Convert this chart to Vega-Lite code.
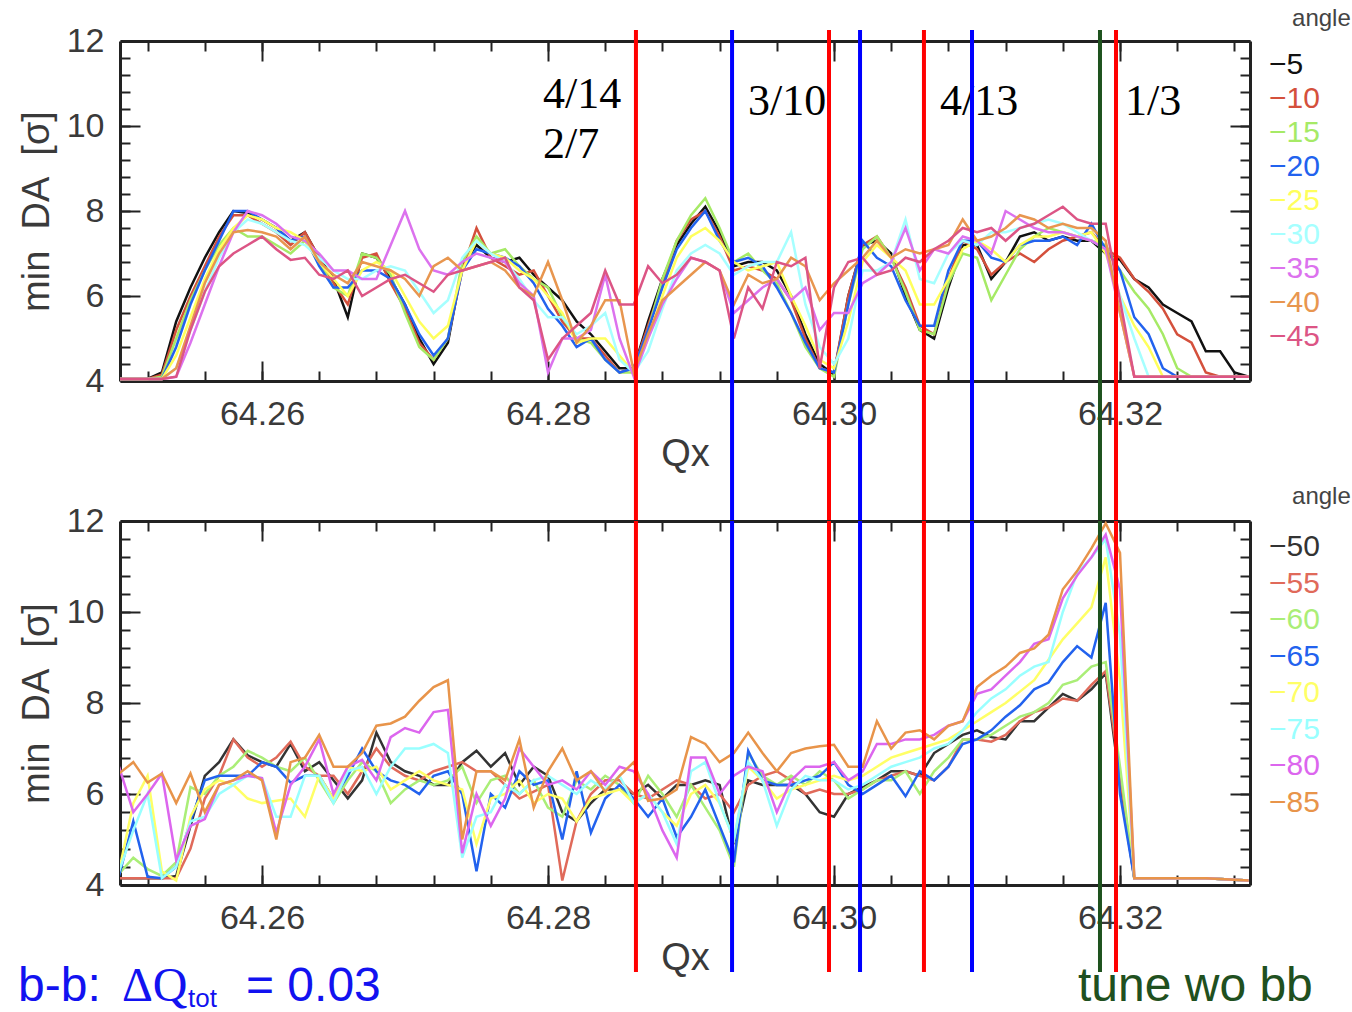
{
"$schema":"https://vega.github.io/schema/vega-lite/v6.json",
"background":"white",
"padding":{"left":18,"top":7,"right":0,"bottom":0},
"spacing":140,
"bounds":"flush",
"config":{"view":{"stroke":null},"axis":{"grid":false,"labelFont":"Liberation Sans","labelFontSize":34,"labelColor":"#3a3a3a","titleFont":"Liberation Sans","titleFontSize":38,"titleFontWeight":"normal","titleColor":"#3a3a3a","tickColor":"#222","tickWidth":2,"domainColor":"#222","domainWidth":3}},
"datasets":{
"top":[
{"a":-5,"q":64.250,"v":4.05},{"a":-5,"q":64.252,"v":4.05},{"a":-5,"q":64.253,"v":4.2},{"a":-5,"q":64.254,"v":5.4},{"a":-5,"q":64.255,"v":6.2},{"a":-5,"q":64.256,"v":6.9},{"a":-5,"q":64.257,"v":7.5},{"a":-5,"q":64.258,"v":8.0},{"a":-5,"q":64.259,"v":7.95},{"a":-5,"q":64.260,"v":7.8},{"a":-5,"q":64.261,"v":7.6},{"a":-5,"q":64.262,"v":7.3},{"a":-5,"q":64.263,"v":7.5},{"a":-5,"q":64.264,"v":6.9},{"a":-5,"q":64.265,"v":6.4},{"a":-5,"q":64.266,"v":5.5},{"a":-5,"q":64.267,"v":7.0},{"a":-5,"q":64.268,"v":6.9},{"a":-5,"q":64.269,"v":6.4},{"a":-5,"q":64.270,"v":5.8},{"a":-5,"q":64.271,"v":5.0},{"a":-5,"q":64.272,"v":4.4},{"a":-5,"q":64.273,"v":4.9},{"a":-5,"q":64.274,"v":6.7},{"a":-5,"q":64.275,"v":7.2},{"a":-5,"q":64.276,"v":6.9},{"a":-5,"q":64.277,"v":6.8},{"a":-5,"q":64.278,"v":6.9},{"a":-5,"q":64.279,"v":6.5},{"a":-5,"q":64.280,"v":6.2},{"a":-5,"q":64.281,"v":5.9},{"a":-5,"q":64.282,"v":5.4},{"a":-5,"q":64.283,"v":5.1},{"a":-5,"q":64.284,"v":4.7},{"a":-5,"q":64.285,"v":4.3},{"a":-5,"q":64.286,"v":4.3},{"a":-5,"q":64.287,"v":5.4},{"a":-5,"q":64.288,"v":6.4},{"a":-5,"q":64.289,"v":7.2},{"a":-5,"q":64.290,"v":7.7},{"a":-5,"q":64.291,"v":8.1},{"a":-5,"q":64.292,"v":7.5},{"a":-5,"q":64.293,"v":6.7},{"a":-5,"q":64.294,"v":6.8},{"a":-5,"q":64.295,"v":6.8},{"a":-5,"q":64.296,"v":6.6},{"a":-5,"q":64.297,"v":6.0},{"a":-5,"q":64.298,"v":5.1},{"a":-5,"q":64.299,"v":4.4},{"a":-5,"q":64.300,"v":4.15},{"a":-5,"q":64.301,"v":6.0},{"a":-5,"q":64.302,"v":7.2},{"a":-5,"q":64.303,"v":7.3},{"a":-5,"q":64.304,"v":7.0},{"a":-5,"q":64.305,"v":6.0},{"a":-5,"q":64.306,"v":5.2},{"a":-5,"q":64.307,"v":5.0},{"a":-5,"q":64.308,"v":6.2},{"a":-5,"q":64.309,"v":7.2},{"a":-5,"q":64.310,"v":7.2},{"a":-5,"q":64.311,"v":6.4},{"a":-5,"q":64.312,"v":6.8},{"a":-5,"q":64.313,"v":7.4},{"a":-5,"q":64.314,"v":7.5},{"a":-5,"q":64.315,"v":7.3},{"a":-5,"q":64.316,"v":7.4},{"a":-5,"q":64.317,"v":7.3},{"a":-5,"q":64.318,"v":7.3},{"a":-5,"q":64.319,"v":7.0},{"a":-5,"q":64.320,"v":6.85},{"a":-5,"q":64.321,"v":6.4},{"a":-5,"q":64.322,"v":6.2},{"a":-5,"q":64.323,"v":5.8},{"a":-5,"q":64.324,"v":5.6},{"a":-5,"q":64.325,"v":5.4},{"a":-5,"q":64.326,"v":4.7},{"a":-5,"q":64.327,"v":4.7},{"a":-5,"q":64.328,"v":4.2},{"a":-5,"q":64.329,"v":4.1},
{"a":-10,"q":64.250,"v":4.05},{"a":-10,"q":64.252,"v":4.05},{"a":-10,"q":64.253,"v":4.15},{"a":-10,"q":64.254,"v":5.2},{"a":-10,"q":64.255,"v":6.0},{"a":-10,"q":64.256,"v":6.7},{"a":-10,"q":64.257,"v":7.4},{"a":-10,"q":64.258,"v":7.9},{"a":-10,"q":64.259,"v":7.9},{"a":-10,"q":64.260,"v":7.7},{"a":-10,"q":64.261,"v":7.5},{"a":-10,"q":64.262,"v":7.2},{"a":-10,"q":64.263,"v":7.5},{"a":-10,"q":64.264,"v":6.9},{"a":-10,"q":64.265,"v":6.3},{"a":-10,"q":64.266,"v":5.8},{"a":-10,"q":64.267,"v":6.9},{"a":-10,"q":64.268,"v":7.0},{"a":-10,"q":64.269,"v":6.3},{"a":-10,"q":64.270,"v":5.7},{"a":-10,"q":64.271,"v":4.9},{"a":-10,"q":64.272,"v":4.5},{"a":-10,"q":64.273,"v":5.0},{"a":-10,"q":64.274,"v":6.6},{"a":-10,"q":64.275,"v":7.6},{"a":-10,"q":64.276,"v":6.9},{"a":-10,"q":64.277,"v":6.7},{"a":-10,"q":64.278,"v":6.5},{"a":-10,"q":64.279,"v":6.6},{"a":-10,"q":64.280,"v":6.0},{"a":-10,"q":64.281,"v":5.4},{"a":-10,"q":64.282,"v":5.0},{"a":-10,"q":64.283,"v":5.0},{"a":-10,"q":64.284,"v":4.6},{"a":-10,"q":64.285,"v":4.2},{"a":-10,"q":64.286,"v":4.3},{"a":-10,"q":64.287,"v":5.3},{"a":-10,"q":64.288,"v":6.3},{"a":-10,"q":64.289,"v":7.3},{"a":-10,"q":64.290,"v":7.8},{"a":-10,"q":64.291,"v":8.0},{"a":-10,"q":64.292,"v":7.4},{"a":-10,"q":64.293,"v":6.6},{"a":-10,"q":64.294,"v":6.7},{"a":-10,"q":64.295,"v":6.6},{"a":-10,"q":64.296,"v":6.4},{"a":-10,"q":64.297,"v":5.9},{"a":-10,"q":64.298,"v":5.0},{"a":-10,"q":64.299,"v":4.3},{"a":-10,"q":64.300,"v":4.2},{"a":-10,"q":64.301,"v":6.0},{"a":-10,"q":64.302,"v":7.2},{"a":-10,"q":64.303,"v":7.4},{"a":-10,"q":64.304,"v":6.9},{"a":-10,"q":64.305,"v":6.2},{"a":-10,"q":64.306,"v":5.3},{"a":-10,"q":64.307,"v":5.1},{"a":-10,"q":64.308,"v":6.4},{"a":-10,"q":64.309,"v":7.3},{"a":-10,"q":64.310,"v":7.1},{"a":-10,"q":64.311,"v":6.5},{"a":-10,"q":64.312,"v":6.8},{"a":-10,"q":64.313,"v":7.0},{"a":-10,"q":64.314,"v":6.8},{"a":-10,"q":64.315,"v":7.1},{"a":-10,"q":64.316,"v":7.3},{"a":-10,"q":64.317,"v":7.4},{"a":-10,"q":64.318,"v":7.5},{"a":-10,"q":64.319,"v":7.1},{"a":-10,"q":64.320,"v":6.9},{"a":-10,"q":64.321,"v":6.4},{"a":-10,"q":64.322,"v":6.1},{"a":-10,"q":64.323,"v":5.7},{"a":-10,"q":64.324,"v":5.1},{"a":-10,"q":64.325,"v":4.9},{"a":-10,"q":64.326,"v":4.2},{"a":-10,"q":64.327,"v":4.1},{"a":-10,"q":64.329,"v":4.1},
{"a":-15,"q":64.250,"v":4.05},{"a":-15,"q":64.252,"v":4.05},{"a":-15,"q":64.253,"v":4.1},{"a":-15,"q":64.254,"v":5.0},{"a":-15,"q":64.255,"v":5.9},{"a":-15,"q":64.256,"v":6.6},{"a":-15,"q":64.257,"v":7.2},{"a":-15,"q":64.258,"v":7.6},{"a":-15,"q":64.259,"v":7.4},{"a":-15,"q":64.260,"v":7.4},{"a":-15,"q":64.261,"v":7.2},{"a":-15,"q":64.262,"v":7.0},{"a":-15,"q":64.263,"v":7.3},{"a":-15,"q":64.264,"v":6.8},{"a":-15,"q":64.265,"v":6.2},{"a":-15,"q":64.266,"v":6.0},{"a":-15,"q":64.267,"v":7.0},{"a":-15,"q":64.268,"v":6.9},{"a":-15,"q":64.269,"v":6.5},{"a":-15,"q":64.270,"v":5.6},{"a":-15,"q":64.271,"v":4.8},{"a":-15,"q":64.272,"v":4.5},{"a":-15,"q":64.273,"v":5.0},{"a":-15,"q":64.274,"v":6.8},{"a":-15,"q":64.275,"v":7.4},{"a":-15,"q":64.276,"v":7.0},{"a":-15,"q":64.277,"v":7.1},{"a":-15,"q":64.278,"v":6.7},{"a":-15,"q":64.279,"v":6.4},{"a":-15,"q":64.280,"v":6.2},{"a":-15,"q":64.281,"v":5.5},{"a":-15,"q":64.282,"v":5.0},{"a":-15,"q":64.283,"v":4.9},{"a":-15,"q":64.284,"v":4.5},{"a":-15,"q":64.285,"v":4.2},{"a":-15,"q":64.286,"v":4.2},{"a":-15,"q":64.287,"v":5.2},{"a":-15,"q":64.288,"v":6.4},{"a":-15,"q":64.289,"v":7.3},{"a":-15,"q":64.290,"v":7.9},{"a":-15,"q":64.291,"v":8.3},{"a":-15,"q":64.292,"v":7.6},{"a":-15,"q":64.293,"v":6.8},{"a":-15,"q":64.294,"v":7.0},{"a":-15,"q":64.295,"v":6.6},{"a":-15,"q":64.296,"v":6.3},{"a":-15,"q":64.297,"v":5.6},{"a":-15,"q":64.298,"v":4.8},{"a":-15,"q":64.299,"v":4.3},{"a":-15,"q":64.300,"v":4.1},{"a":-15,"q":64.301,"v":5.8},{"a":-15,"q":64.302,"v":7.1},{"a":-15,"q":64.303,"v":7.4},{"a":-15,"q":64.304,"v":6.9},{"a":-15,"q":64.305,"v":6.1},{"a":-15,"q":64.306,"v":5.2},{"a":-15,"q":64.307,"v":5.1},{"a":-15,"q":64.308,"v":6.3},{"a":-15,"q":64.309,"v":7.0},{"a":-15,"q":64.310,"v":6.9},{"a":-15,"q":64.311,"v":5.9},{"a":-15,"q":64.312,"v":6.5},{"a":-15,"q":64.313,"v":7.1},{"a":-15,"q":64.314,"v":7.4},{"a":-15,"q":64.315,"v":7.6},{"a":-15,"q":64.316,"v":7.5},{"a":-15,"q":64.317,"v":7.4},{"a":-15,"q":64.318,"v":7.3},{"a":-15,"q":64.319,"v":7.2},{"a":-15,"q":64.320,"v":6.6},{"a":-15,"q":64.321,"v":6.1},{"a":-15,"q":64.322,"v":5.7},{"a":-15,"q":64.323,"v":5.1},{"a":-15,"q":64.324,"v":4.3},{"a":-15,"q":64.325,"v":4.1},{"a":-15,"q":64.329,"v":4.1},
{"a":-20,"q":64.250,"v":4.05},{"a":-20,"q":64.253,"v":4.05},{"a":-20,"q":64.254,"v":4.8},{"a":-20,"q":64.255,"v":5.8},{"a":-20,"q":64.256,"v":6.6},{"a":-20,"q":64.257,"v":7.3},{"a":-20,"q":64.258,"v":8.0},{"a":-20,"q":64.259,"v":8.0},{"a":-20,"q":64.260,"v":7.8},{"a":-20,"q":64.261,"v":7.6},{"a":-20,"q":64.262,"v":7.3},{"a":-20,"q":64.263,"v":7.4},{"a":-20,"q":64.264,"v":6.7},{"a":-20,"q":64.265,"v":6.2},{"a":-20,"q":64.266,"v":6.2},{"a":-20,"q":64.267,"v":6.6},{"a":-20,"q":64.268,"v":6.6},{"a":-20,"q":64.269,"v":6.4},{"a":-20,"q":64.270,"v":5.8},{"a":-20,"q":64.271,"v":5.1},{"a":-20,"q":64.272,"v":4.6},{"a":-20,"q":64.273,"v":5.0},{"a":-20,"q":64.274,"v":6.6},{"a":-20,"q":64.275,"v":7.1},{"a":-20,"q":64.276,"v":7.0},{"a":-20,"q":64.277,"v":6.9},{"a":-20,"q":64.278,"v":6.7},{"a":-20,"q":64.279,"v":6.3},{"a":-20,"q":64.280,"v":5.7},{"a":-20,"q":64.281,"v":5.3},{"a":-20,"q":64.282,"v":4.8},{"a":-20,"q":64.283,"v":5.0},{"a":-20,"q":64.284,"v":4.5},{"a":-20,"q":64.285,"v":4.2},{"a":-20,"q":64.286,"v":4.3},{"a":-20,"q":64.287,"v":5.2},{"a":-20,"q":64.288,"v":6.2},{"a":-20,"q":64.289,"v":7.1},{"a":-20,"q":64.290,"v":7.6},{"a":-20,"q":64.291,"v":8.0},{"a":-20,"q":64.292,"v":7.3},{"a":-20,"q":64.293,"v":6.8},{"a":-20,"q":64.294,"v":6.9},{"a":-20,"q":64.295,"v":6.7},{"a":-20,"q":64.296,"v":6.2},{"a":-20,"q":64.297,"v":5.6},{"a":-20,"q":64.298,"v":4.9},{"a":-20,"q":64.299,"v":4.3},{"a":-20,"q":64.300,"v":4.2},{"a":-20,"q":64.301,"v":5.8},{"a":-20,"q":64.302,"v":7.3},{"a":-20,"q":64.303,"v":6.9},{"a":-20,"q":64.304,"v":6.7},{"a":-20,"q":64.305,"v":5.9},{"a":-20,"q":64.306,"v":5.3},{"a":-20,"q":64.307,"v":5.3},{"a":-20,"q":64.308,"v":6.6},{"a":-20,"q":64.309,"v":7.3},{"a":-20,"q":64.310,"v":7.3},{"a":-20,"q":64.311,"v":6.9},{"a":-20,"q":64.312,"v":6.8},{"a":-20,"q":64.313,"v":7.2},{"a":-20,"q":64.314,"v":7.3},{"a":-20,"q":64.315,"v":7.3},{"a":-20,"q":64.316,"v":7.4},{"a":-20,"q":64.317,"v":7.2},{"a":-20,"q":64.318,"v":7.7},{"a":-20,"q":64.319,"v":7.1},{"a":-20,"q":64.320,"v":6.6},{"a":-20,"q":64.321,"v":5.5},{"a":-20,"q":64.322,"v":5.1},{"a":-20,"q":64.323,"v":4.3},{"a":-20,"q":64.324,"v":4.1},{"a":-20,"q":64.329,"v":4.1},
{"a":-25,"q":64.250,"v":4.05},{"a":-25,"q":64.253,"v":4.05},{"a":-25,"q":64.254,"v":4.6},{"a":-25,"q":64.255,"v":5.5},{"a":-25,"q":64.256,"v":6.4},{"a":-25,"q":64.257,"v":7.1},{"a":-25,"q":64.258,"v":7.6},{"a":-25,"q":64.259,"v":7.9},{"a":-25,"q":64.260,"v":7.8},{"a":-25,"q":64.261,"v":7.6},{"a":-25,"q":64.262,"v":7.5},{"a":-25,"q":64.263,"v":7.3},{"a":-25,"q":64.264,"v":6.8},{"a":-25,"q":64.265,"v":6.4},{"a":-25,"q":64.266,"v":6.0},{"a":-25,"q":64.267,"v":6.6},{"a":-25,"q":64.268,"v":6.8},{"a":-25,"q":64.269,"v":6.6},{"a":-25,"q":64.270,"v":6.0},{"a":-25,"q":64.271,"v":5.4},{"a":-25,"q":64.272,"v":5.0},{"a":-25,"q":64.273,"v":5.3},{"a":-25,"q":64.274,"v":6.6},{"a":-25,"q":64.275,"v":7.3},{"a":-25,"q":64.276,"v":7.0},{"a":-25,"q":64.277,"v":6.9},{"a":-25,"q":64.278,"v":6.6},{"a":-25,"q":64.279,"v":6.4},{"a":-25,"q":64.280,"v":6.0},{"a":-25,"q":64.281,"v":5.6},{"a":-25,"q":64.282,"v":4.9},{"a":-25,"q":64.283,"v":5.0},{"a":-25,"q":64.284,"v":5.0},{"a":-25,"q":64.285,"v":4.6},{"a":-25,"q":64.286,"v":4.2},{"a":-25,"q":64.287,"v":5.0},{"a":-25,"q":64.288,"v":6.0},{"a":-25,"q":64.289,"v":6.9},{"a":-25,"q":64.290,"v":7.4},{"a":-25,"q":64.291,"v":7.6},{"a":-25,"q":64.292,"v":7.3},{"a":-25,"q":64.293,"v":6.8},{"a":-25,"q":64.294,"v":6.6},{"a":-25,"q":64.295,"v":6.7},{"a":-25,"q":64.296,"v":6.8},{"a":-25,"q":64.297,"v":6.0},{"a":-25,"q":64.298,"v":5.3},{"a":-25,"q":64.299,"v":4.5},{"a":-25,"q":64.300,"v":4.3},{"a":-25,"q":64.301,"v":5.4},{"a":-25,"q":64.302,"v":6.8},{"a":-25,"q":64.303,"v":7.2},{"a":-25,"q":64.304,"v":6.9},{"a":-25,"q":64.305,"v":6.6},{"a":-25,"q":64.306,"v":5.8},{"a":-25,"q":64.307,"v":5.8},{"a":-25,"q":64.308,"v":6.4},{"a":-25,"q":64.309,"v":7.1},{"a":-25,"q":64.310,"v":7.3},{"a":-25,"q":64.311,"v":7.1},{"a":-25,"q":64.312,"v":6.8},{"a":-25,"q":64.313,"v":7.2},{"a":-25,"q":64.314,"v":7.4},{"a":-25,"q":64.315,"v":7.4},{"a":-25,"q":64.316,"v":7.5},{"a":-25,"q":64.317,"v":7.4},{"a":-25,"q":64.318,"v":7.5},{"a":-25,"q":64.319,"v":7.0},{"a":-25,"q":64.320,"v":6.0},{"a":-25,"q":64.321,"v":5.3},{"a":-25,"q":64.322,"v":4.8},{"a":-25,"q":64.323,"v":4.1},{"a":-25,"q":64.329,"v":4.1},
{"a":-30,"q":64.250,"v":4.05},{"a":-30,"q":64.253,"v":4.05},{"a":-30,"q":64.254,"v":4.3},{"a":-30,"q":64.255,"v":5.2},{"a":-30,"q":64.256,"v":6.1},{"a":-30,"q":64.257,"v":6.9},{"a":-30,"q":64.258,"v":7.5},{"a":-30,"q":64.259,"v":7.8},{"a":-30,"q":64.260,"v":7.7},{"a":-30,"q":64.261,"v":7.5},{"a":-30,"q":64.262,"v":7.3},{"a":-30,"q":64.263,"v":7.2},{"a":-30,"q":64.264,"v":6.9},{"a":-30,"q":64.265,"v":6.6},{"a":-30,"q":64.266,"v":6.4},{"a":-30,"q":64.267,"v":6.4},{"a":-30,"q":64.268,"v":6.6},{"a":-30,"q":64.269,"v":6.7},{"a":-30,"q":64.270,"v":6.6},{"a":-30,"q":64.271,"v":6.1},{"a":-30,"q":64.272,"v":5.6},{"a":-30,"q":64.273,"v":5.9},{"a":-30,"q":64.274,"v":6.9},{"a":-30,"q":64.275,"v":7.3},{"a":-30,"q":64.276,"v":7.0},{"a":-30,"q":64.277,"v":6.8},{"a":-30,"q":64.278,"v":6.4},{"a":-30,"q":64.279,"v":5.9},{"a":-30,"q":64.280,"v":5.5},{"a":-30,"q":64.281,"v":5.5},{"a":-30,"q":64.282,"v":5.1},{"a":-30,"q":64.283,"v":5.3},{"a":-30,"q":64.284,"v":5.6},{"a":-30,"q":64.285,"v":4.5},{"a":-30,"q":64.286,"v":4.2},{"a":-30,"q":64.287,"v":4.7},{"a":-30,"q":64.288,"v":5.7},{"a":-30,"q":64.289,"v":6.6},{"a":-30,"q":64.290,"v":7.0},{"a":-30,"q":64.291,"v":7.2},{"a":-30,"q":64.292,"v":7.0},{"a":-30,"q":64.293,"v":6.5},{"a":-30,"q":64.294,"v":6.7},{"a":-30,"q":64.295,"v":6.8},{"a":-30,"q":64.296,"v":6.8},{"a":-30,"q":64.297,"v":7.5},{"a":-30,"q":64.298,"v":5.8},{"a":-30,"q":64.299,"v":4.8},{"a":-30,"q":64.300,"v":4.4},{"a":-30,"q":64.301,"v":5.0},{"a":-30,"q":64.302,"v":6.6},{"a":-30,"q":64.303,"v":6.6},{"a":-30,"q":64.304,"v":6.8},{"a":-30,"q":64.305,"v":7.8},{"a":-30,"q":64.306,"v":6.4},{"a":-30,"q":64.307,"v":6.3},{"a":-30,"q":64.308,"v":7.0},{"a":-30,"q":64.309,"v":7.3},{"a":-30,"q":64.310,"v":7.2},{"a":-30,"q":64.311,"v":7.5},{"a":-30,"q":64.312,"v":7.5},{"a":-30,"q":64.313,"v":7.6},{"a":-30,"q":64.314,"v":7.7},{"a":-30,"q":64.315,"v":7.8},{"a":-30,"q":64.316,"v":7.7},{"a":-30,"q":64.317,"v":7.5},{"a":-30,"q":64.318,"v":7.3},{"a":-30,"q":64.319,"v":7.1},{"a":-30,"q":64.320,"v":6.0},{"a":-30,"q":64.321,"v":5.0},{"a":-30,"q":64.322,"v":4.1},{"a":-30,"q":64.329,"v":4.1},
{"a":-35,"q":64.250,"v":4.05},{"a":-35,"q":64.253,"v":4.05},{"a":-35,"q":64.254,"v":4.1},{"a":-35,"q":64.255,"v":4.9},{"a":-35,"q":64.256,"v":5.8},{"a":-35,"q":64.257,"v":6.7},{"a":-35,"q":64.258,"v":7.5},{"a":-35,"q":64.259,"v":8.0},{"a":-35,"q":64.260,"v":7.9},{"a":-35,"q":64.261,"v":7.7},{"a":-35,"q":64.262,"v":7.4},{"a":-35,"q":64.263,"v":7.3},{"a":-35,"q":64.264,"v":7.0},{"a":-35,"q":64.265,"v":6.6},{"a":-35,"q":64.266,"v":6.6},{"a":-35,"q":64.267,"v":6.4},{"a":-35,"q":64.268,"v":6.4},{"a":-35,"q":64.269,"v":7.2},{"a":-35,"q":64.270,"v":8.0},{"a":-35,"q":64.271,"v":7.1},{"a":-35,"q":64.272,"v":6.6},{"a":-35,"q":64.273,"v":6.5},{"a":-35,"q":64.274,"v":6.8},{"a":-35,"q":64.275,"v":7.0},{"a":-35,"q":64.276,"v":6.9},{"a":-35,"q":64.277,"v":6.8},{"a":-35,"q":64.278,"v":6.3},{"a":-35,"q":64.279,"v":6.0},{"a":-35,"q":64.280,"v":4.2},{"a":-35,"q":64.281,"v":5.0},{"a":-35,"q":64.282,"v":5.0},{"a":-35,"q":64.283,"v":5.2},{"a":-35,"q":64.284,"v":6.5},{"a":-35,"q":64.285,"v":5.0},{"a":-35,"q":64.286,"v":4.1},{"a":-35,"q":64.287,"v":5.0},{"a":-35,"q":64.288,"v":5.8},{"a":-35,"q":64.289,"v":6.4},{"a":-35,"q":64.290,"v":6.9},{"a":-35,"q":64.291,"v":6.8},{"a":-35,"q":64.292,"v":6.6},{"a":-35,"q":64.293,"v":5.6},{"a":-35,"q":64.294,"v":5.9},{"a":-35,"q":64.295,"v":6.2},{"a":-35,"q":64.296,"v":6.4},{"a":-35,"q":64.297,"v":5.9},{"a":-35,"q":64.298,"v":6.2},{"a":-35,"q":64.299,"v":5.2},{"a":-35,"q":64.300,"v":5.6},{"a":-35,"q":64.301,"v":5.6},{"a":-35,"q":64.302,"v":6.3},{"a":-35,"q":64.303,"v":6.5},{"a":-35,"q":64.304,"v":6.8},{"a":-35,"q":64.305,"v":7.6},{"a":-35,"q":64.306,"v":6.6},{"a":-35,"q":64.307,"v":7.1},{"a":-35,"q":64.308,"v":7.0},{"a":-35,"q":64.309,"v":7.4},{"a":-35,"q":64.310,"v":7.3},{"a":-35,"q":64.311,"v":7.0},{"a":-35,"q":64.312,"v":8.0},{"a":-35,"q":64.313,"v":7.8},{"a":-35,"q":64.314,"v":7.6},{"a":-35,"q":64.315,"v":7.5},{"a":-35,"q":64.316,"v":7.5},{"a":-35,"q":64.317,"v":7.4},{"a":-35,"q":64.318,"v":7.3},{"a":-35,"q":64.319,"v":7.1},{"a":-35,"q":64.320,"v":5.6},{"a":-35,"q":64.321,"v":4.1},{"a":-35,"q":64.329,"v":4.1},
{"a":-40,"q":64.250,"v":4.05},{"a":-40,"q":64.253,"v":4.05},{"a":-40,"q":64.254,"v":4.3},{"a":-40,"q":64.255,"v":5.3},{"a":-40,"q":64.256,"v":6.3},{"a":-40,"q":64.257,"v":7.0},{"a":-40,"q":64.258,"v":7.5},{"a":-40,"q":64.259,"v":7.55},{"a":-40,"q":64.260,"v":7.5},{"a":-40,"q":64.261,"v":7.4},{"a":-40,"q":64.262,"v":7.1},{"a":-40,"q":64.263,"v":7.4},{"a":-40,"q":64.264,"v":6.8},{"a":-40,"q":64.265,"v":6.5},{"a":-40,"q":64.266,"v":6.3},{"a":-40,"q":64.267,"v":6.8},{"a":-40,"q":64.268,"v":6.7},{"a":-40,"q":64.269,"v":6.6},{"a":-40,"q":64.270,"v":6.4},{"a":-40,"q":64.271,"v":6.0},{"a":-40,"q":64.272,"v":6.7},{"a":-40,"q":64.273,"v":6.9},{"a":-40,"q":64.274,"v":6.6},{"a":-40,"q":64.275,"v":6.7},{"a":-40,"q":64.276,"v":6.8},{"a":-40,"q":64.277,"v":6.6},{"a":-40,"q":64.278,"v":6.2},{"a":-40,"q":64.279,"v":6.0},{"a":-40,"q":64.280,"v":6.8},{"a":-40,"q":64.281,"v":5.9},{"a":-40,"q":64.282,"v":4.9},{"a":-40,"q":64.283,"v":5.3},{"a":-40,"q":64.284,"v":5.9},{"a":-40,"q":64.285,"v":5.9},{"a":-40,"q":64.286,"v":4.2},{"a":-40,"q":64.287,"v":5.1},{"a":-40,"q":64.288,"v":5.9},{"a":-40,"q":64.289,"v":6.2},{"a":-40,"q":64.290,"v":6.5},{"a":-40,"q":64.291,"v":6.8},{"a":-40,"q":64.292,"v":6.6},{"a":-40,"q":64.293,"v":5.8},{"a":-40,"q":64.294,"v":6.5},{"a":-40,"q":64.295,"v":6.3},{"a":-40,"q":64.296,"v":6.4},{"a":-40,"q":64.297,"v":6.9},{"a":-40,"q":64.298,"v":6.7},{"a":-40,"q":64.299,"v":5.9},{"a":-40,"q":64.300,"v":6.3},{"a":-40,"q":64.301,"v":6.6},{"a":-40,"q":64.302,"v":6.9},{"a":-40,"q":64.303,"v":7.3},{"a":-40,"q":64.304,"v":6.9},{"a":-40,"q":64.305,"v":7.1},{"a":-40,"q":64.306,"v":7.0},{"a":-40,"q":64.307,"v":7.1},{"a":-40,"q":64.308,"v":7.2},{"a":-40,"q":64.309,"v":7.8},{"a":-40,"q":64.310,"v":7.3},{"a":-40,"q":64.311,"v":7.4},{"a":-40,"q":64.312,"v":7.6},{"a":-40,"q":64.313,"v":7.9},{"a":-40,"q":64.314,"v":7.8},{"a":-40,"q":64.315,"v":7.6},{"a":-40,"q":64.316,"v":7.7},{"a":-40,"q":64.317,"v":7.6},{"a":-40,"q":64.318,"v":7.6},{"a":-40,"q":64.319,"v":7.3},{"a":-40,"q":64.320,"v":5.6},{"a":-40,"q":64.321,"v":4.1},{"a":-40,"q":64.329,"v":4.1},
{"a":-45,"q":64.250,"v":4.05},{"a":-45,"q":64.253,"v":4.05},{"a":-45,"q":64.254,"v":4.1},{"a":-45,"q":64.255,"v":5.2},{"a":-45,"q":64.256,"v":6.1},{"a":-45,"q":64.257,"v":6.7},{"a":-45,"q":64.258,"v":7.0},{"a":-45,"q":64.259,"v":7.2},{"a":-45,"q":64.260,"v":7.4},{"a":-45,"q":64.261,"v":7.1},{"a":-45,"q":64.262,"v":6.85},{"a":-45,"q":64.263,"v":6.9},{"a":-45,"q":64.264,"v":6.5},{"a":-45,"q":64.265,"v":6.4},{"a":-45,"q":64.266,"v":6.6},{"a":-45,"q":64.267,"v":6.0},{"a":-45,"q":64.268,"v":6.2},{"a":-45,"q":64.269,"v":6.4},{"a":-45,"q":64.270,"v":6.5},{"a":-45,"q":64.271,"v":6.3},{"a":-45,"q":64.272,"v":6.1},{"a":-45,"q":64.273,"v":6.5},{"a":-45,"q":64.274,"v":6.6},{"a":-45,"q":64.275,"v":6.7},{"a":-45,"q":64.276,"v":6.8},{"a":-45,"q":64.277,"v":6.9},{"a":-45,"q":64.278,"v":6.2},{"a":-45,"q":64.279,"v":5.9},{"a":-45,"q":64.280,"v":4.5},{"a":-45,"q":64.281,"v":5.0},{"a":-45,"q":64.282,"v":5.3},{"a":-45,"q":64.283,"v":5.6},{"a":-45,"q":64.284,"v":6.6},{"a":-45,"q":64.285,"v":5.8},{"a":-45,"q":64.286,"v":5.8},{"a":-45,"q":64.287,"v":6.7},{"a":-45,"q":64.288,"v":6.3},{"a":-45,"q":64.289,"v":6.5},{"a":-45,"q":64.290,"v":6.9},{"a":-45,"q":64.291,"v":6.8},{"a":-45,"q":64.292,"v":6.6},{"a":-45,"q":64.293,"v":5.0},{"a":-45,"q":64.294,"v":6.2},{"a":-45,"q":64.295,"v":5.7},{"a":-45,"q":64.296,"v":6.8},{"a":-45,"q":64.297,"v":6.7},{"a":-45,"q":64.298,"v":6.9},{"a":-45,"q":64.299,"v":4.3},{"a":-45,"q":64.300,"v":6.2},{"a":-45,"q":64.301,"v":6.8},{"a":-45,"q":64.302,"v":6.9},{"a":-45,"q":64.303,"v":6.5},{"a":-45,"q":64.304,"v":6.6},{"a":-45,"q":64.305,"v":6.9},{"a":-45,"q":64.306,"v":6.8},{"a":-45,"q":64.307,"v":7.1},{"a":-45,"q":64.308,"v":7.3},{"a":-45,"q":64.309,"v":7.6},{"a":-45,"q":64.310,"v":7.5},{"a":-45,"q":64.311,"v":7.6},{"a":-45,"q":64.312,"v":7.3},{"a":-45,"q":64.313,"v":7.6},{"a":-45,"q":64.314,"v":7.7},{"a":-45,"q":64.315,"v":7.9},{"a":-45,"q":64.316,"v":8.1},{"a":-45,"q":64.317,"v":7.8},{"a":-45,"q":64.318,"v":7.7},{"a":-45,"q":64.319,"v":7.7},{"a":-45,"q":64.320,"v":5.9},{"a":-45,"q":64.321,"v":4.1},{"a":-45,"q":64.329,"v":4.1}
],
"bot":[
{"a":-50,"q":64.250,"v":4.15},{"a":-50,"q":64.253,"v":4.15},{"a":-50,"q":64.254,"v":4.2},{"a":-50,"q":64.255,"v":5.3},{"a":-50,"q":64.256,"v":6.4},{"a":-50,"q":64.257,"v":6.7},{"a":-50,"q":64.258,"v":7.2},{"a":-50,"q":64.259,"v":6.85},{"a":-50,"q":64.260,"v":6.7},{"a":-50,"q":64.261,"v":6.6},{"a":-50,"q":64.262,"v":7.1},{"a":-50,"q":64.263,"v":6.5},{"a":-50,"q":64.264,"v":6.7},{"a":-50,"q":64.265,"v":6.3},{"a":-50,"q":64.266,"v":5.9},{"a":-50,"q":64.267,"v":6.3},{"a":-50,"q":64.268,"v":7.35},{"a":-50,"q":64.269,"v":6.7},{"a":-50,"q":64.270,"v":6.5},{"a":-50,"q":64.271,"v":6.4},{"a":-50,"q":64.272,"v":6.2},{"a":-50,"q":64.273,"v":6.2},{"a":-50,"q":64.274,"v":6.7},{"a":-50,"q":64.275,"v":6.95},{"a":-50,"q":64.276,"v":6.6},{"a":-50,"q":64.277,"v":6.9},{"a":-50,"q":64.278,"v":6.2},{"a":-50,"q":64.279,"v":6.6},{"a":-50,"q":64.280,"v":6.4},{"a":-50,"q":64.281,"v":5.6},{"a":-50,"q":64.282,"v":5.4},{"a":-50,"q":64.283,"v":5.8},{"a":-50,"q":64.284,"v":6.1},{"a":-50,"q":64.285,"v":6.1},{"a":-50,"q":64.286,"v":6.0},{"a":-50,"q":64.287,"v":6.2},{"a":-50,"q":64.288,"v":5.9},{"a":-50,"q":64.289,"v":6.2},{"a":-50,"q":64.290,"v":6.2},{"a":-50,"q":64.291,"v":6.3},{"a":-50,"q":64.292,"v":6.2},{"a":-50,"q":64.293,"v":4.9},{"a":-50,"q":64.294,"v":6.3},{"a":-50,"q":64.295,"v":6.2},{"a":-50,"q":64.296,"v":6.2},{"a":-50,"q":64.297,"v":6.2},{"a":-50,"q":64.298,"v":6.0},{"a":-50,"q":64.299,"v":5.6},{"a":-50,"q":64.300,"v":5.5},{"a":-50,"q":64.301,"v":6.0},{"a":-50,"q":64.302,"v":6.15},{"a":-50,"q":64.303,"v":6.3},{"a":-50,"q":64.304,"v":6.5},{"a":-50,"q":64.305,"v":6.5},{"a":-50,"q":64.306,"v":6.4},{"a":-50,"q":64.307,"v":6.9},{"a":-50,"q":64.308,"v":7.1},{"a":-50,"q":64.309,"v":7.3},{"a":-50,"q":64.310,"v":7.4},{"a":-50,"q":64.311,"v":7.25},{"a":-50,"q":64.312,"v":7.2},{"a":-50,"q":64.313,"v":7.6},{"a":-50,"q":64.314,"v":7.6},{"a":-50,"q":64.315,"v":7.9},{"a":-50,"q":64.316,"v":8.2},{"a":-50,"q":64.317,"v":8.05},{"a":-50,"q":64.318,"v":8.3},{"a":-50,"q":64.319,"v":8.65},{"a":-50,"q":64.320,"v":6.2},{"a":-50,"q":64.321,"v":4.15},{"a":-50,"q":64.326,"v":4.15},{"a":-50,"q":64.329,"v":4.1},
{"a":-55,"q":64.250,"v":4.15},{"a":-55,"q":64.254,"v":4.15},{"a":-55,"q":64.255,"v":4.8},{"a":-55,"q":64.256,"v":5.9},{"a":-55,"q":64.257,"v":6.4},{"a":-55,"q":64.258,"v":7.2},{"a":-55,"q":64.259,"v":6.8},{"a":-55,"q":64.260,"v":6.6},{"a":-55,"q":64.261,"v":6.8},{"a":-55,"q":64.262,"v":7.15},{"a":-55,"q":64.263,"v":6.6},{"a":-55,"q":64.264,"v":6.4},{"a":-55,"q":64.265,"v":6.4},{"a":-55,"q":64.266,"v":6.0},{"a":-55,"q":64.267,"v":6.5},{"a":-55,"q":64.268,"v":7.0},{"a":-55,"q":64.269,"v":6.6},{"a":-55,"q":64.270,"v":6.4},{"a":-55,"q":64.271,"v":6.3},{"a":-55,"q":64.272,"v":6.5},{"a":-55,"q":64.273,"v":6.6},{"a":-55,"q":64.274,"v":6.7},{"a":-55,"q":64.275,"v":6.5},{"a":-55,"q":64.276,"v":6.5},{"a":-55,"q":64.277,"v":6.2},{"a":-55,"q":64.278,"v":5.9},{"a":-55,"q":64.279,"v":6.05},{"a":-55,"q":64.280,"v":6.2},{"a":-55,"q":64.281,"v":4.1},{"a":-55,"q":64.282,"v":5.4},{"a":-55,"q":64.283,"v":6.0},{"a":-55,"q":64.284,"v":6.3},{"a":-55,"q":64.285,"v":6.3},{"a":-55,"q":64.286,"v":6.0},{"a":-55,"q":64.287,"v":5.9},{"a":-55,"q":64.288,"v":6.1},{"a":-55,"q":64.289,"v":6.3},{"a":-55,"q":64.290,"v":6.2},{"a":-55,"q":64.291,"v":5.9},{"a":-55,"q":64.292,"v":6.0},{"a":-55,"q":64.293,"v":5.6},{"a":-55,"q":64.294,"v":6.2},{"a":-55,"q":64.295,"v":6.4},{"a":-55,"q":64.296,"v":6.5},{"a":-55,"q":64.297,"v":6.3},{"a":-55,"q":64.298,"v":6.0},{"a":-55,"q":64.299,"v":6.1},{"a":-55,"q":64.300,"v":6.0},{"a":-55,"q":64.301,"v":6.0},{"a":-55,"q":64.302,"v":6.1},{"a":-55,"q":64.303,"v":6.3},{"a":-55,"q":64.304,"v":6.4},{"a":-55,"q":64.305,"v":6.5},{"a":-55,"q":64.306,"v":6.4},{"a":-55,"q":64.307,"v":6.3},{"a":-55,"q":64.308,"v":6.6},{"a":-55,"q":64.309,"v":7.2},{"a":-55,"q":64.310,"v":7.2},{"a":-55,"q":64.311,"v":7.15},{"a":-55,"q":64.312,"v":7.3},{"a":-55,"q":64.313,"v":7.6},{"a":-55,"q":64.314,"v":7.8},{"a":-55,"q":64.315,"v":7.9},{"a":-55,"q":64.316,"v":8.1},{"a":-55,"q":64.317,"v":8.05},{"a":-55,"q":64.318,"v":8.4},{"a":-55,"q":64.319,"v":8.7},{"a":-55,"q":64.320,"v":6.4},{"a":-55,"q":64.321,"v":4.15},{"a":-55,"q":64.326,"v":4.15},{"a":-55,"q":64.329,"v":4.1},
{"a":-60,"q":64.250,"v":4.25},{"a":-60,"q":64.251,"v":4.6},{"a":-60,"q":64.252,"v":4.35},{"a":-60,"q":64.253,"v":4.2},{"a":-60,"q":64.254,"v":4.5},{"a":-60,"q":64.255,"v":6.15},{"a":-60,"q":64.256,"v":6.0},{"a":-60,"q":64.257,"v":6.4},{"a":-60,"q":64.258,"v":6.6},{"a":-60,"q":64.259,"v":6.95},{"a":-60,"q":64.260,"v":6.8},{"a":-60,"q":64.261,"v":6.6},{"a":-60,"q":64.262,"v":6.5},{"a":-60,"q":64.263,"v":6.8},{"a":-60,"q":64.264,"v":6.3},{"a":-60,"q":64.265,"v":5.8},{"a":-60,"q":64.266,"v":6.3},{"a":-60,"q":64.267,"v":6.7},{"a":-60,"q":64.268,"v":6.5},{"a":-60,"q":64.269,"v":5.8},{"a":-60,"q":64.270,"v":6.1},{"a":-60,"q":64.271,"v":6.3},{"a":-60,"q":64.272,"v":6.2},{"a":-60,"q":64.273,"v":6.3},{"a":-60,"q":64.274,"v":6.6},{"a":-60,"q":64.275,"v":5.8},{"a":-60,"q":64.276,"v":6.3},{"a":-60,"q":64.277,"v":6.4},{"a":-60,"q":64.278,"v":6.0},{"a":-60,"q":64.279,"v":6.3},{"a":-60,"q":64.280,"v":5.7},{"a":-60,"q":64.281,"v":5.5},{"a":-60,"q":64.282,"v":6.3},{"a":-60,"q":64.283,"v":6.1},{"a":-60,"q":64.284,"v":6.4},{"a":-60,"q":64.285,"v":6.2},{"a":-60,"q":64.286,"v":5.8},{"a":-60,"q":64.287,"v":6.4},{"a":-60,"q":64.288,"v":6.0},{"a":-60,"q":64.289,"v":5.5},{"a":-60,"q":64.290,"v":6.2},{"a":-60,"q":64.291,"v":5.7},{"a":-60,"q":64.292,"v":5.2},{"a":-60,"q":64.293,"v":4.4},{"a":-60,"q":64.294,"v":6.9},{"a":-60,"q":64.295,"v":6.4},{"a":-60,"q":64.296,"v":6.2},{"a":-60,"q":64.297,"v":6.4},{"a":-60,"q":64.298,"v":6.2},{"a":-60,"q":64.299,"v":6.5},{"a":-60,"q":64.300,"v":6.3},{"a":-60,"q":64.301,"v":5.9},{"a":-60,"q":64.302,"v":6.1},{"a":-60,"q":64.303,"v":6.3},{"a":-60,"q":64.304,"v":6.3},{"a":-60,"q":64.305,"v":6.5},{"a":-60,"q":64.306,"v":6.0},{"a":-60,"q":64.307,"v":6.5},{"a":-60,"q":64.308,"v":6.8},{"a":-60,"q":64.309,"v":7.2},{"a":-60,"q":64.310,"v":7.2},{"a":-60,"q":64.311,"v":7.3},{"a":-60,"q":64.312,"v":7.5},{"a":-60,"q":64.313,"v":7.7},{"a":-60,"q":64.314,"v":7.8},{"a":-60,"q":64.315,"v":8.0},{"a":-60,"q":64.316,"v":8.4},{"a":-60,"q":64.317,"v":8.5},{"a":-60,"q":64.318,"v":8.8},{"a":-60,"q":64.319,"v":8.9},{"a":-60,"q":64.320,"v":6.6},{"a":-60,"q":64.321,"v":4.15},{"a":-60,"q":64.326,"v":4.15},{"a":-60,"q":64.329,"v":4.1},
{"a":-65,"q":64.250,"v":4.2},{"a":-65,"q":64.251,"v":5.4},{"a":-65,"q":64.252,"v":4.18},{"a":-65,"q":64.253,"v":4.15},{"a":-65,"q":64.254,"v":4.4},{"a":-65,"q":64.255,"v":5.4},{"a":-65,"q":64.256,"v":6.3},{"a":-65,"q":64.257,"v":6.4},{"a":-65,"q":64.258,"v":6.4},{"a":-65,"q":64.259,"v":6.4},{"a":-65,"q":64.260,"v":6.7},{"a":-65,"q":64.261,"v":6.6},{"a":-65,"q":64.262,"v":6.25},{"a":-65,"q":64.263,"v":6.4},{"a":-65,"q":64.264,"v":6.4},{"a":-65,"q":64.265,"v":5.9},{"a":-65,"q":64.266,"v":6.4},{"a":-65,"q":64.267,"v":7.0},{"a":-65,"q":64.268,"v":6.5},{"a":-65,"q":64.269,"v":6.3},{"a":-65,"q":64.270,"v":6.2},{"a":-65,"q":64.271,"v":6.0},{"a":-65,"q":64.272,"v":6.4},{"a":-65,"q":64.273,"v":6.5},{"a":-65,"q":64.274,"v":6.0},{"a":-65,"q":64.275,"v":4.3},{"a":-65,"q":64.276,"v":6.0},{"a":-65,"q":64.277,"v":5.7},{"a":-65,"q":64.278,"v":6.5},{"a":-65,"q":64.279,"v":6.2},{"a":-65,"q":64.280,"v":6.3},{"a":-65,"q":64.281,"v":5.0},{"a":-65,"q":64.282,"v":6.5},{"a":-65,"q":64.283,"v":5.15},{"a":-65,"q":64.284,"v":5.9},{"a":-65,"q":64.285,"v":6.2},{"a":-65,"q":64.286,"v":5.9},{"a":-65,"q":64.287,"v":5.5},{"a":-65,"q":64.288,"v":5.9},{"a":-65,"q":64.289,"v":5.05},{"a":-65,"q":64.290,"v":5.5},{"a":-65,"q":64.291,"v":6.1},{"a":-65,"q":64.292,"v":5.3},{"a":-65,"q":64.293,"v":4.5},{"a":-65,"q":64.294,"v":6.95},{"a":-65,"q":64.295,"v":6.3},{"a":-65,"q":64.296,"v":6.2},{"a":-65,"q":64.297,"v":6.2},{"a":-65,"q":64.298,"v":6.3},{"a":-65,"q":64.299,"v":6.4},{"a":-65,"q":64.300,"v":6.7},{"a":-65,"q":64.301,"v":6.2},{"a":-65,"q":64.302,"v":6.0},{"a":-65,"q":64.303,"v":6.2},{"a":-65,"q":64.304,"v":6.4},{"a":-65,"q":64.305,"v":5.95},{"a":-65,"q":64.306,"v":6.5},{"a":-65,"q":64.307,"v":6.3},{"a":-65,"q":64.308,"v":6.6},{"a":-65,"q":64.309,"v":7.1},{"a":-65,"q":64.310,"v":7.2},{"a":-65,"q":64.311,"v":7.4},{"a":-65,"q":64.312,"v":7.7},{"a":-65,"q":64.313,"v":7.95},{"a":-65,"q":64.314,"v":8.3},{"a":-65,"q":64.315,"v":8.45},{"a":-65,"q":64.316,"v":8.9},{"a":-65,"q":64.317,"v":9.25},{"a":-65,"q":64.318,"v":9.0},{"a":-65,"q":64.319,"v":10.2},{"a":-65,"q":64.320,"v":6.0},{"a":-65,"q":64.321,"v":4.15},{"a":-65,"q":64.326,"v":4.15},{"a":-65,"q":64.329,"v":4.1},
{"a":-70,"q":64.250,"v":4.3},{"a":-70,"q":64.251,"v":5.8},{"a":-70,"q":64.252,"v":6.4},{"a":-70,"q":64.253,"v":4.3},{"a":-70,"q":64.254,"v":4.1},{"a":-70,"q":64.255,"v":5.5},{"a":-70,"q":64.256,"v":6.1},{"a":-70,"q":64.257,"v":6.3},{"a":-70,"q":64.258,"v":6.2},{"a":-70,"q":64.259,"v":5.9},{"a":-70,"q":64.260,"v":5.8},{"a":-70,"q":64.261,"v":5.85},{"a":-70,"q":64.262,"v":5.9},{"a":-70,"q":64.263,"v":5.5},{"a":-70,"q":64.264,"v":6.4},{"a":-70,"q":64.265,"v":5.9},{"a":-70,"q":64.266,"v":6.6},{"a":-70,"q":64.267,"v":6.5},{"a":-70,"q":64.268,"v":6.6},{"a":-70,"q":64.269,"v":6.1},{"a":-70,"q":64.270,"v":6.3},{"a":-70,"q":64.271,"v":6.5},{"a":-70,"q":64.272,"v":6.3},{"a":-70,"q":64.273,"v":6.2},{"a":-70,"q":64.274,"v":6.1},{"a":-70,"q":64.275,"v":4.9},{"a":-70,"q":64.276,"v":5.9},{"a":-70,"q":64.277,"v":6.0},{"a":-70,"q":64.278,"v":6.3},{"a":-70,"q":64.279,"v":5.8},{"a":-70,"q":64.280,"v":6.0},{"a":-70,"q":64.281,"v":5.9},{"a":-70,"q":64.282,"v":5.4},{"a":-70,"q":64.283,"v":5.9},{"a":-70,"q":64.284,"v":6.0},{"a":-70,"q":64.285,"v":6.1},{"a":-70,"q":64.286,"v":5.8},{"a":-70,"q":64.287,"v":6.0},{"a":-70,"q":64.288,"v":5.6},{"a":-70,"q":64.289,"v":5.3},{"a":-70,"q":64.290,"v":6.0},{"a":-70,"q":64.291,"v":6.2},{"a":-70,"q":64.292,"v":5.8},{"a":-70,"q":64.293,"v":5.0},{"a":-70,"q":64.294,"v":6.6},{"a":-70,"q":64.295,"v":6.3},{"a":-70,"q":64.296,"v":5.9},{"a":-70,"q":64.297,"v":6.1},{"a":-70,"q":64.298,"v":6.2},{"a":-70,"q":64.299,"v":6.3},{"a":-70,"q":64.300,"v":6.4},{"a":-70,"q":64.301,"v":6.3},{"a":-70,"q":64.302,"v":6.4},{"a":-70,"q":64.303,"v":6.6},{"a":-70,"q":64.304,"v":6.8},{"a":-70,"q":64.305,"v":6.9},{"a":-70,"q":64.306,"v":7.0},{"a":-70,"q":64.307,"v":7.1},{"a":-70,"q":64.308,"v":7.2},{"a":-70,"q":64.309,"v":7.4},{"a":-70,"q":64.310,"v":7.6},{"a":-70,"q":64.311,"v":7.8},{"a":-70,"q":64.312,"v":8.0},{"a":-70,"q":64.313,"v":8.25},{"a":-70,"q":64.314,"v":8.5},{"a":-70,"q":64.315,"v":8.95},{"a":-70,"q":64.316,"v":9.4},{"a":-70,"q":64.317,"v":9.75},{"a":-70,"q":64.318,"v":10.1},{"a":-70,"q":64.319,"v":11.2},{"a":-70,"q":64.320,"v":8.5},{"a":-70,"q":64.321,"v":4.15},{"a":-70,"q":64.326,"v":4.15},{"a":-70,"q":64.329,"v":4.1},
{"a":-75,"q":64.250,"v":4.3},{"a":-75,"q":64.251,"v":5.2},{"a":-75,"q":64.252,"v":6.0},{"a":-75,"q":64.253,"v":4.15},{"a":-75,"q":64.254,"v":4.4},{"a":-75,"q":64.255,"v":5.4},{"a":-75,"q":64.256,"v":5.5},{"a":-75,"q":64.257,"v":6.0},{"a":-75,"q":64.258,"v":6.2},{"a":-75,"q":64.259,"v":6.4},{"a":-75,"q":64.260,"v":6.35},{"a":-75,"q":64.261,"v":5.5},{"a":-75,"q":64.262,"v":5.5},{"a":-75,"q":64.263,"v":6.4},{"a":-75,"q":64.264,"v":6.4},{"a":-75,"q":64.265,"v":5.8},{"a":-75,"q":64.266,"v":6.5},{"a":-75,"q":64.267,"v":6.6},{"a":-75,"q":64.268,"v":6.0},{"a":-75,"q":64.269,"v":6.6},{"a":-75,"q":64.270,"v":7.0},{"a":-75,"q":64.271,"v":7.0},{"a":-75,"q":64.272,"v":7.1},{"a":-75,"q":64.273,"v":6.9},{"a":-75,"q":64.274,"v":4.6},{"a":-75,"q":64.275,"v":5.5},{"a":-75,"q":64.276,"v":5.6},{"a":-75,"q":64.277,"v":6.2},{"a":-75,"q":64.278,"v":6.0},{"a":-75,"q":64.279,"v":6.3},{"a":-75,"q":64.280,"v":6.4},{"a":-75,"q":64.281,"v":6.2},{"a":-75,"q":64.282,"v":6.0},{"a":-75,"q":64.283,"v":6.3},{"a":-75,"q":64.284,"v":6.1},{"a":-75,"q":64.285,"v":6.4},{"a":-75,"q":64.286,"v":5.8},{"a":-75,"q":64.287,"v":6.0},{"a":-75,"q":64.288,"v":5.6},{"a":-75,"q":64.289,"v":4.9},{"a":-75,"q":64.290,"v":6.5},{"a":-75,"q":64.291,"v":6.7},{"a":-75,"q":64.292,"v":5.8},{"a":-75,"q":64.293,"v":5.0},{"a":-75,"q":64.294,"v":6.7},{"a":-75,"q":64.295,"v":6.3},{"a":-75,"q":64.296,"v":5.3},{"a":-75,"q":64.297,"v":6.1},{"a":-75,"q":64.298,"v":6.4},{"a":-75,"q":64.299,"v":6.3},{"a":-75,"q":64.300,"v":6.3},{"a":-75,"q":64.301,"v":6.1},{"a":-75,"q":64.302,"v":6.2},{"a":-75,"q":64.303,"v":6.4},{"a":-75,"q":64.304,"v":6.6},{"a":-75,"q":64.305,"v":6.7},{"a":-75,"q":64.306,"v":6.8},{"a":-75,"q":64.307,"v":7.0},{"a":-75,"q":64.308,"v":7.1},{"a":-75,"q":64.309,"v":7.4},{"a":-75,"q":64.310,"v":7.8},{"a":-75,"q":64.311,"v":8.1},{"a":-75,"q":64.312,"v":8.3},{"a":-75,"q":64.313,"v":8.6},{"a":-75,"q":64.314,"v":8.8},{"a":-75,"q":64.315,"v":8.9},{"a":-75,"q":64.316,"v":10.0},{"a":-75,"q":64.317,"v":10.85},{"a":-75,"q":64.318,"v":11.2},{"a":-75,"q":64.319,"v":11.6},{"a":-75,"q":64.320,"v":9.5},{"a":-75,"q":64.321,"v":4.15},{"a":-75,"q":64.326,"v":4.15},{"a":-75,"q":64.329,"v":4.1},
{"a":-80,"q":64.250,"v":6.6},{"a":-80,"q":64.251,"v":5.6},{"a":-80,"q":64.252,"v":6.0},{"a":-80,"q":64.253,"v":6.45},{"a":-80,"q":64.254,"v":4.55},{"a":-80,"q":64.255,"v":5.3},{"a":-80,"q":64.256,"v":5.45},{"a":-80,"q":64.257,"v":6.2},{"a":-80,"q":64.258,"v":6.3},{"a":-80,"q":64.259,"v":6.4},{"a":-80,"q":64.260,"v":6.35},{"a":-80,"q":64.261,"v":5.15},{"a":-80,"q":64.262,"v":6.2},{"a":-80,"q":64.263,"v":6.6},{"a":-80,"q":64.264,"v":7.2},{"a":-80,"q":64.265,"v":6.0},{"a":-80,"q":64.266,"v":6.6},{"a":-80,"q":64.267,"v":6.75},{"a":-80,"q":64.268,"v":6.3},{"a":-80,"q":64.269,"v":7.25},{"a":-80,"q":64.270,"v":7.45},{"a":-80,"q":64.271,"v":7.35},{"a":-80,"q":64.272,"v":7.8},{"a":-80,"q":64.273,"v":7.85},{"a":-80,"q":64.274,"v":4.7},{"a":-80,"q":64.275,"v":6.0},{"a":-80,"q":64.276,"v":5.3},{"a":-80,"q":64.277,"v":5.9},{"a":-80,"q":64.278,"v":7.0},{"a":-80,"q":64.279,"v":6.6},{"a":-80,"q":64.280,"v":6.2},{"a":-80,"q":64.281,"v":6.3},{"a":-80,"q":64.282,"v":6.1},{"a":-80,"q":64.283,"v":6.5},{"a":-80,"q":64.284,"v":6.2},{"a":-80,"q":64.285,"v":6.6},{"a":-80,"q":64.286,"v":6.5},{"a":-80,"q":64.287,"v":6.0},{"a":-80,"q":64.288,"v":5.2},{"a":-80,"q":64.289,"v":4.6},{"a":-80,"q":64.290,"v":6.8},{"a":-80,"q":64.291,"v":6.8},{"a":-80,"q":64.292,"v":6.0},{"a":-80,"q":64.293,"v":6.4},{"a":-80,"q":64.294,"v":6.6},{"a":-80,"q":64.295,"v":6.5},{"a":-80,"q":64.296,"v":5.6},{"a":-80,"q":64.297,"v":6.3},{"a":-80,"q":64.298,"v":6.6},{"a":-80,"q":64.299,"v":6.6},{"a":-80,"q":64.300,"v":6.7},{"a":-80,"q":64.301,"v":6.3},{"a":-80,"q":64.302,"v":6.5},{"a":-80,"q":64.303,"v":7.1},{"a":-80,"q":64.304,"v":7.1},{"a":-80,"q":64.305,"v":7.2},{"a":-80,"q":64.306,"v":7.2},{"a":-80,"q":64.307,"v":7.3},{"a":-80,"q":64.308,"v":7.5},{"a":-80,"q":64.309,"v":7.6},{"a":-80,"q":64.310,"v":8.2},{"a":-80,"q":64.311,"v":8.3},{"a":-80,"q":64.312,"v":8.6},{"a":-80,"q":64.313,"v":8.9},{"a":-80,"q":64.314,"v":9.3},{"a":-80,"q":64.315,"v":9.4},{"a":-80,"q":64.316,"v":10.3},{"a":-80,"q":64.317,"v":10.8},{"a":-80,"q":64.318,"v":11.2},{"a":-80,"q":64.319,"v":11.7},{"a":-80,"q":64.320,"v":10.5},{"a":-80,"q":64.321,"v":4.15},{"a":-80,"q":64.326,"v":4.15},{"a":-80,"q":64.329,"v":4.1},
{"a":-85,"q":64.250,"v":6.45},{"a":-85,"q":64.251,"v":6.7},{"a":-85,"q":64.252,"v":6.25},{"a":-85,"q":64.253,"v":6.45},{"a":-85,"q":64.254,"v":5.8},{"a":-85,"q":64.255,"v":6.45},{"a":-85,"q":64.256,"v":5.6},{"a":-85,"q":64.257,"v":6.2},{"a":-85,"q":64.258,"v":6.3},{"a":-85,"q":64.259,"v":6.5},{"a":-85,"q":64.260,"v":6.3},{"a":-85,"q":64.261,"v":5.0},{"a":-85,"q":64.262,"v":6.7},{"a":-85,"q":64.263,"v":6.8},{"a":-85,"q":64.264,"v":7.3},{"a":-85,"q":64.265,"v":6.6},{"a":-85,"q":64.266,"v":6.6},{"a":-85,"q":64.267,"v":6.9},{"a":-85,"q":64.268,"v":7.5},{"a":-85,"q":64.269,"v":7.55},{"a":-85,"q":64.270,"v":7.7},{"a":-85,"q":64.271,"v":8.05},{"a":-85,"q":64.272,"v":8.35},{"a":-85,"q":64.273,"v":8.5},{"a":-85,"q":64.274,"v":5.0},{"a":-85,"q":64.275,"v":6.5},{"a":-85,"q":64.276,"v":6.5},{"a":-85,"q":64.277,"v":6.3},{"a":-85,"q":64.278,"v":7.2},{"a":-85,"q":64.279,"v":5.7},{"a":-85,"q":64.280,"v":6.5},{"a":-85,"q":64.281,"v":7.0},{"a":-85,"q":64.282,"v":6.3},{"a":-85,"q":64.283,"v":6.5},{"a":-85,"q":64.284,"v":6.05},{"a":-85,"q":64.285,"v":6.4},{"a":-85,"q":64.286,"v":6.7},{"a":-85,"q":64.287,"v":5.85},{"a":-85,"q":64.288,"v":5.9},{"a":-85,"q":64.289,"v":6.1},{"a":-85,"q":64.290,"v":7.25},{"a":-85,"q":64.291,"v":7.1},{"a":-85,"q":64.292,"v":6.7},{"a":-85,"q":64.293,"v":6.9},{"a":-85,"q":64.294,"v":7.35},{"a":-85,"q":64.295,"v":6.9},{"a":-85,"q":64.296,"v":6.5},{"a":-85,"q":64.297,"v":6.9},{"a":-85,"q":64.298,"v":7.0},{"a":-85,"q":64.299,"v":7.05},{"a":-85,"q":64.300,"v":7.08},{"a":-85,"q":64.301,"v":6.6},{"a":-85,"q":64.302,"v":6.6},{"a":-85,"q":64.303,"v":7.6},{"a":-85,"q":64.304,"v":7.0},{"a":-85,"q":64.305,"v":7.35},{"a":-85,"q":64.306,"v":7.4},{"a":-85,"q":64.307,"v":7.2},{"a":-85,"q":64.308,"v":7.5},{"a":-85,"q":64.309,"v":7.6},{"a":-85,"q":64.310,"v":8.35},{"a":-85,"q":64.311,"v":8.6},{"a":-85,"q":64.312,"v":8.8},{"a":-85,"q":64.313,"v":9.1},{"a":-85,"q":64.314,"v":9.2},{"a":-85,"q":64.315,"v":9.5},{"a":-85,"q":64.316,"v":10.5},{"a":-85,"q":64.317,"v":10.9},{"a":-85,"q":64.318,"v":11.4},{"a":-85,"q":64.319,"v":11.95},{"a":-85,"q":64.320,"v":11.3},{"a":-85,"q":64.321,"v":4.15},{"a":-85,"q":64.326,"v":4.15},{"a":-85,"q":64.329,"v":4.1}
],
"rules":[{"q":64.28615,"k":"r"},{"q":64.29287,"k":"b"},{"q":64.29965,"k":"r"},{"q":64.30182,"k":"b"},{"q":64.30629,"k":"r"},{"q":64.30965,"k":"b"},{"q":64.3186,"k":"g"},{"q":64.31972,"k":"r"}],
"ratios":[{"t":"4/14","q":64.27965,"v":10.42},{"t":"2/7","q":64.27965,"v":9.25},{"t":"3/10","q":64.29399,"v":10.26},{"t":"4/13","q":64.30741,"v":10.26},{"t":"1/3","q":64.32035,"v":10.26}],
"angleT":[{"t":"angle","q":64.33203,"v":12.35}],
"angleB":[{"t":"angle","q":64.33203,"v":12.37}],
"bbA":[{"t":"b-b:","q":64.24294,"v":1.45},{"t":"= 0.03","q":64.25888,"v":1.45}],
"bbD":[{"t":"ΔQ","q":64.25021,"v":1.45}],
"bbS":[{"t":"tot","q":64.25483,"v":1.32}],
"tune":[{"t":"tune wo bb","q":64.31706,"v":1.45}]
},
"vconcat":[
{"width":1130,"height":340,
"resolve":{"axis":{"x":"independent","y":"independent"}},
"layer":[
{"data":{"name":"top"},"mark":{"type":"line","strokeWidth":2.5,"clip":true},
"encoding":{
"x":{"field":"q","type":"quantitative","scale":{"domain":[64.25007,64.32909],"nice":false,"zero":false},"axis":{"orient":"bottom","values":[64.26,64.28,64.3,64.32],"format":".2f","tickSize":-20,"labelPadding":36,"title":"Qx","titlePadding":4}},
"y":{"field":"v","type":"quantitative","scale":{"domain":[4,12],"nice":false,"zero":false},"axis":{"orient":"left","values":[4,6,8,10,12],"tickSize":-20,"labelPadding":36,"title":"min\u00a0\u00a0DA\u00a0\u00a0[σ]","titlePadding":10}},
"color":{"field":"a","type":"nominal","scale":{"domain":[-5,-10,-15,-20,-25,-30,-35,-40,-45],"range":["#111111","#d4503c","#a6ea66","#2262ee","#ffff5c","#a6ffff","#dc72ee","#e8964f","#dc5585"]},
"legend":{"orient":"none","legendX":1119,"legendY":9,"title":null,"symbolSize":0,"symbolOpacity":0,"symbolStrokeWidth":0,"labelOffset":0,"padding":0,"rowPadding":4,"labelFont":"Liberation Sans","labelFontSize":30,"labelExpr":"replace(datum.label, '-', '−')","labelColor":{"expr":"['#111111','#d4503c','#a6ea66','#2262ee','#ffff5c','#a6ffff','#dc72ee','#e8964f','#dc5585'][datum.index]"}}}}},
{"data":{"name":"ratios"},"mark":{"type":"text","font":"Liberation Serif","fontSize":44,"align":"left","baseline":"alphabetic","fill":"#000000"},
"encoding":{
"x":{"field":"q","type":"quantitative","scale":{"domain":[64.25007,64.32909],"nice":false,"zero":false},"axis":{"orient":"bottom","values":[64.252,64.256,64.26,64.264,64.268,64.272,64.276,64.28,64.284,64.288,64.292,64.296,64.3,64.304,64.308,64.312,64.316,64.32,64.324,64.328],"tickSize":-10,"labels":false,"domain":false,"title":null}},
"y":{"field":"v","type":"quantitative","scale":{"domain":[4,12],"nice":false,"zero":false},"axis":{"orient":"left","values":[4.4,4.8,5.2,5.6,6,6.4,6.8,7.2,7.6,8,8.4,8.8,9.2,9.6,10,10.4,10.8,11.2,11.6],"tickSize":-10,"labels":false,"domain":false,"title":null}},
"text":{"field":"t"}}},
{"data":{"name":"rules"},"mark":{"type":"rule","strokeWidth":4,"yOffset":-11,"y2Offset":140},
"encoding":{
"x":{"field":"q","type":"quantitative","scale":{"domain":[64.25007,64.32909],"nice":false,"zero":false},"axis":{"orient":"top","values":[64.252,64.256,64.26,64.264,64.268,64.272,64.276,64.28,64.284,64.288,64.292,64.296,64.3,64.304,64.308,64.312,64.316,64.32,64.324,64.328],"tickSize":-10,"labels":false,"domain":false,"title":null}},
"y":{"datum":12,"type":"quantitative","scale":{"domain":[4,12],"nice":false,"zero":false},"axis":{"orient":"right","values":[4.4,4.8,5.2,5.6,6,6.4,6.8,7.2,7.6,8,8.4,8.8,9.2,9.6,10,10.4,10.8,11.2,11.6],"tickSize":-10,"labels":false,"domain":false,"title":null}},
"y2":{"datum":4},
"stroke":{"field":"k","type":"nominal","scale":{"domain":["r","b","g"],"range":["#ff0000","#0000ff","#1e521e"]},"legend":null}}},
{"data":{"name":"angleT"},"mark":{"type":"text","font":"Liberation Sans","fontSize":24,"align":"left","baseline":"alphabetic","fill":"#444444"},
"encoding":{
"x":{"field":"q","type":"quantitative","scale":{"domain":[64.25007,64.32909],"nice":false,"zero":false},"axis":{"orient":"top","values":[64.26,64.28,64.3,64.32],"tickSize":-20,"labels":false,"title":null}},
"y":{"field":"v","type":"quantitative","scale":{"domain":[4,12],"nice":false,"zero":false},"axis":{"orient":"right","values":[4,6,8,10,12],"tickSize":-20,"labels":false,"title":null}},
"text":{"field":"t"}}}
]},
{"width":1130,"height":364,
"resolve":{"axis":{"x":"independent","y":"independent"}},
"layer":[
{"data":{"name":"bot"},"mark":{"type":"line","strokeWidth":2.5,"clip":true},
"encoding":{
"x":{"field":"q","type":"quantitative","scale":{"domain":[64.25007,64.32909],"nice":false,"zero":false},"axis":{"orient":"bottom","values":[64.26,64.28,64.3,64.32],"format":".2f","tickSize":-20,"labelPadding":36,"title":"Qx","titlePadding":4}},
"y":{"field":"v","type":"quantitative","scale":{"domain":[4,12],"nice":false,"zero":false},"axis":{"orient":"left","values":[4,6,8,10,12],"tickSize":-20,"labelPadding":36,"title":"min\u00a0\u00a0DA\u00a0\u00a0[σ]","titlePadding":10}},
"color":{"field":"a","type":"nominal","scale":{"domain":[-50,-55,-60,-65,-70,-75,-80,-85],"range":["#333333","#e06a5a","#aaee77","#2262ee","#ffff66","#99ffff","#dc66ee","#e8944a"]},
"legend":{"orient":"none","legendX":1119,"legendY":11,"title":null,"symbolSize":0,"symbolOpacity":0,"symbolStrokeWidth":0,"labelOffset":0,"padding":0,"rowPadding":6.5,"labelFont":"Liberation Sans","labelFontSize":30,"labelExpr":"replace(datum.label, '-', '−')","labelColor":{"expr":"['#333333','#e06a5a','#aaee77','#2262ee','#ffff66','#99ffff','#dc66ee','#e8944a'][datum.index]"}}}}},
{"data":{"name":"bbA"},"mark":{"type":"text","font":"Liberation Sans","fontSize":48,"align":"left","baseline":"alphabetic","fill":"#1212f0"},
"encoding":{
"x":{"field":"q","type":"quantitative","scale":{"domain":[64.25007,64.32909],"nice":false,"zero":false},"axis":{"orient":"bottom","values":[64.252,64.256,64.26,64.264,64.268,64.272,64.276,64.28,64.284,64.288,64.292,64.296,64.3,64.304,64.308,64.312,64.316,64.32,64.324,64.328],"tickSize":-10,"labels":false,"domain":false,"title":null}},
"y":{"field":"v","type":"quantitative","scale":{"domain":[4,12],"nice":false,"zero":false},"axis":{"orient":"left","values":[4.4,4.8,5.2,5.6,6,6.4,6.8,7.2,7.6,8,8.4,8.8,9.2,9.6,10,10.4,10.8,11.2,11.6],"tickSize":-10,"labels":false,"domain":false,"title":null}},
"text":{"field":"t"}}},
{"data":{"name":"rules"},"mark":{"type":"rule","strokeWidth":4,"y2Offset":87},
"encoding":{
"x":{"field":"q","type":"quantitative","scale":{"domain":[64.25007,64.32909],"nice":false,"zero":false},"axis":{"orient":"top","values":[64.252,64.256,64.26,64.264,64.268,64.272,64.276,64.28,64.284,64.288,64.292,64.296,64.3,64.304,64.308,64.312,64.316,64.32,64.324,64.328],"tickSize":-10,"labels":false,"domain":false,"title":null}},
"y":{"datum":12,"type":"quantitative","scale":{"domain":[4,12],"nice":false,"zero":false},"axis":{"orient":"right","values":[4.4,4.8,5.2,5.6,6,6.4,6.8,7.2,7.6,8,8.4,8.8,9.2,9.6,10,10.4,10.8,11.2,11.6],"tickSize":-10,"labels":false,"domain":false,"title":null}},
"y2":{"datum":4},
"stroke":{"field":"k","type":"nominal","scale":{"domain":["r","b","g"],"range":["#ff0000","#0000ff","#1e521e"]},"legend":null}}},
{"data":{"name":"angleB"},"mark":{"type":"text","font":"Liberation Sans","fontSize":24,"align":"left","baseline":"alphabetic","fill":"#444444"},
"encoding":{
"x":{"field":"q","type":"quantitative","scale":{"domain":[64.25007,64.32909],"nice":false,"zero":false},"axis":{"orient":"top","values":[64.26,64.28,64.3,64.32],"tickSize":-20,"labels":false,"title":null}},
"y":{"field":"v","type":"quantitative","scale":{"domain":[4,12],"nice":false,"zero":false},"axis":{"orient":"right","values":[4,6,8,10,12],"tickSize":-20,"labels":false,"title":null}},
"text":{"field":"t"}}},
{"data":{"name":"bbD"},"mark":{"type":"text","font":"Liberation Serif","fontSize":48,"align":"left","baseline":"alphabetic","fill":"#1212f0"},
"encoding":{
"x":{"field":"q","type":"quantitative","scale":{"domain":[64.25007,64.32909],"nice":false,"zero":false},"axis":null},
"y":{"field":"v","type":"quantitative","scale":{"domain":[4,12],"nice":false,"zero":false},"axis":null},
"text":{"field":"t"}}},
{"data":{"name":"bbS"},"mark":{"type":"text","font":"Liberation Sans","fontSize":26,"align":"left","baseline":"alphabetic","fill":"#1212f0"},
"encoding":{
"x":{"field":"q","type":"quantitative","scale":{"domain":[64.25007,64.32909],"nice":false,"zero":false},"axis":null},
"y":{"field":"v","type":"quantitative","scale":{"domain":[4,12],"nice":false,"zero":false},"axis":null},
"text":{"field":"t"}}},
{"data":{"name":"tune"},"mark":{"type":"text","font":"Liberation Sans","fontSize":48,"align":"left","baseline":"alphabetic","fill":"#1f5020"},
"encoding":{
"x":{"field":"q","type":"quantitative","scale":{"domain":[64.25007,64.32909],"nice":false,"zero":false},"axis":null},
"y":{"field":"v","type":"quantitative","scale":{"domain":[4,12],"nice":false,"zero":false},"axis":null},
"text":{"field":"t"}}}
]}
],
"resolve":{"scale":{"color":"independent"},"legend":{"color":"independent"}}
}
